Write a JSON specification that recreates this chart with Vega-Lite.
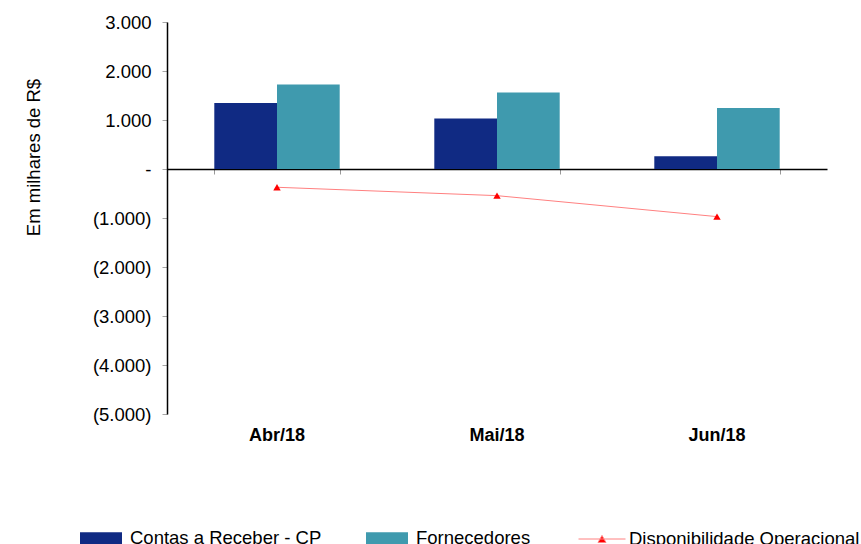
{
  "$schema": "https://vega.github.io/schema/vega-lite/v6.json",
  "width": 660,
  "height": 392,
  "autosize": {"type": "none"},
  "padding": {"left": 167, "top": 22, "right": 34, "bottom": 130},
  "config": {"view": {"stroke": null}, "font": "Liberation Sans", "axis": {"grid": false}},
  "data": {
    "values": [
      {"mes": "Abr/18", "serie": "Contas a Receber - CP", "valor": 1346},
      {"mes": "Abr/18", "serie": "Fornecedores", "valor": 1727},
      {"mes": "Abr/18", "serie": "Disponibilidade Operacional", "valor": -373},
      {"mes": "Mai/18", "serie": "Contas a Receber - CP", "valor": 1033},
      {"mes": "Mai/18", "serie": "Fornecedores", "valor": 1563},
      {"mes": "Mai/18", "serie": "Disponibilidade Operacional", "valor": -544},
      {"mes": "Jun/18", "serie": "Contas a Receber - CP", "valor": 259},
      {"mes": "Jun/18", "serie": "Fornecedores", "valor": 1244},
      {"mes": "Jun/18", "serie": "Disponibilidade Operacional", "valor": -972}
    ]
  },
  "layer": [
    {
      "transform": [{"filter": "datum.serie != 'Disponibilidade Operacional'"}],
      "mark": {"type": "bar"},
      "encoding": {
        "x": {
          "field": "mes", "type": "nominal", "sort": ["Abr/18", "Mai/18", "Jun/18"],
          "scale": {"paddingInner": 0.43, "paddingOuter": 0.215},
          "axis": {"orient": "bottom", "title": null, "domain": false, "ticks": false, "labelAngle": 0,
                   "labelFontSize": 18, "labelFontWeight": "bold", "labelColor": "#000", "labelPadding": 12}
        },
        "xOffset": {
          "field": "serie", "type": "nominal", "sort": ["Contas a Receber - CP", "Fornecedores"],
          "scale": {"paddingInner": 0, "paddingOuter": 0}
        },
        "y": {
          "field": "valor", "type": "quantitative",
          "scale": {"domain": [-5000, 3000], "nice": false, "zero": false},
          "axis": {
            "title": "Em milhares de R$", "titleFontSize": 18.5, "titleFontWeight": "normal", "titleColor": "#000",
            "titleAngle": -90, "titleX": -134, "titleY": 135, "titleAlign": "center", "titleBaseline": "middle",
            "values": [-5000, -4000, -3000, -2000, -1000, 0, 1000, 2000, 3000],
            "labelExpr": "datum.value == 0 ? '-\u00a0\u00a0' : (datum.value < 0 ? '(' + replace(format(-datum.value, ','), ',', '.') + ')' : replace(format(datum.value, ','), ',', '.') + '\u00a0')",
            "labelFontSize": 18.5, "labelColor": "#000", "labelPadding": 11,
            "tickSize": 5, "tickColor": "#a6a6a6", "domainColor": "#000", "domainWidth": 1.5
          }
        },
        "color": {
          "field": "serie", "type": "nominal",
          "scale": {"domain": ["Contas a Receber - CP", "Fornecedores"], "range": ["#102A83", "#3F9AAE"]},
          "legend": {
            "orient": "none", "direction": "horizontal", "legendX": -87, "legendY": 495, "title": null,
            "symbolType": "M-1,-0.28H1V0.28H-1Z", "symbolSize": 1764, "symbolStrokeWidth": 0, "symbolOpacity": 1,
            "labelFontSize": 18.5, "labelColor": "#000", "labelOffset": 8, "columnPadding": 44, "labelLimit": 400
          }
        }
      }
    },
    {
      "transform": [{"filter": "datum.serie == 'Disponibilidade Operacional'"}],
      "mark": {"type": "line", "strokeWidth": 1},
      "encoding": {
        "x": {
          "field": "mes", "type": "nominal", "sort": ["Abr/18", "Mai/18", "Jun/18"],
          "axis": {"orient": "bottom", "offset": -245, "labels": false, "title": null, "domain": true,
                   "domainColor": "#000", "domainWidth": 1.5, "ticks": true, "tickColor": "#999",
                   "tickSize": 5, "tickBand": "extent"}
        },
        "y": {"field": "valor", "type": "quantitative"},
        "stroke": {
          "field": "serie", "type": "nominal",
          "scale": {"domain": ["Disponibilidade Operacional"], "range": ["#FF8080"]},
          "legend": {
            "orient": "none", "direction": "horizontal", "legendX": 411, "legendY": 493, "title": null,
            "symbolType": "M-1,0H1M-0.17,0.15L0,-0.15L0.17,0.15Z", "symbolSize": 2209, "symbolStrokeWidth": 1,
            "labelFontSize": 18.5, "labelColor": "#000", "labelOffset": 3, "labelLimit": 400,
            "encode": {"symbols": {"update": {"fill": {"value": "#FF0000"}, "stroke": {"value": "#FF8080"}}}}
          }
        }
      }
    },
    {
      "transform": [{"filter": "datum.serie == 'Disponibilidade Operacional'"}],
      "mark": {"type": "point", "shape": "triangle-up", "filled": true, "color": "#FF0000", "size": 55, "opacity": 1},
      "encoding": {
        "x": {"field": "mes", "type": "nominal", "sort": ["Abr/18", "Mai/18", "Jun/18"], "axis": null},
        "y": {"field": "valor", "type": "quantitative"}
      }
    }
  ],
  "resolve": {"axis": {"x": "independent"}}
}
